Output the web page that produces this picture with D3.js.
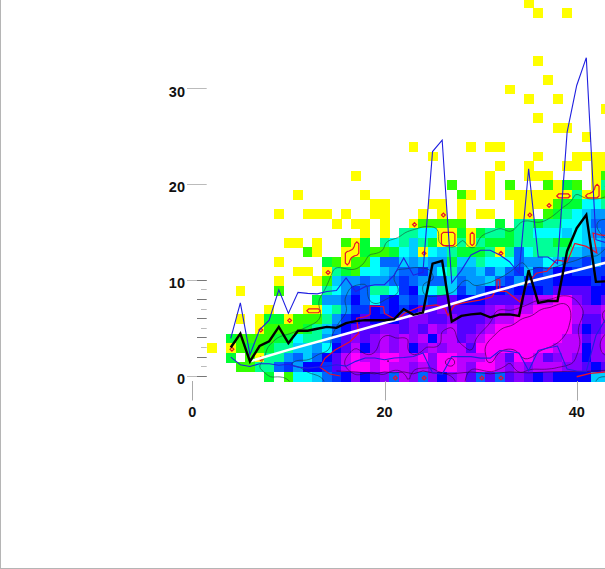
<!DOCTYPE html>
<html><head><meta charset="utf-8">
<script src="https://cdn.jsdelivr.net/npm/d3@7/dist/d3.min.js"></script>
<style>html,body{margin:0;padding:0;background:#fff}svg{display:block}text{font-family:"Liberation Sans",Arial,sans-serif;font-weight:700;font-size:14.5px;fill:#111}</style>
</head><body><svg id="c" width="605" height="569"></svg>
<script>
// Heat levels per cell: rows from y=39 down to y=0, columns x=2..43. '.' = empty
const heatTopY = 39, heatFirstX = 2;
const e30 = ".".repeat(30);
const heatRows = [
e30 + "...0......" + "..",
e30 + "....0..0.." + "..",
"", "", "", "",
e30 + "....0....." + "..",
"",
e30 + ".....0...." + "..",
e30 + ".0........" + "..",
e30 + "...0..0..." + "..",
e30 + ".........." + ".0",
e30 + "....0....." + "..",
e30 + "......00.." + "..",
e30 + ".........0" + "..",
".........." + ".........." + ".0.....0.0" + "0........." + "..",
".........." + ".........." + "...0......" + "....0...00" + "00",
".........." + ".........." + ".........." + "0..0...00." + "00",
".........." + ".....0...." + ".........0" + "...000...." + "01",
".........." + ".........." + ".....1...0" + ".1...1021." + "03",
".........0" + "......0..." + "......10.0" + ".000000030" + "01",
".........." + ".......00." + "...00.0..." + "..00001224" + "43",
".......0.." + "000.0..00." + "..0.0.0.00" + "..00.12345" + "66",
".........." + "...0.00.0." + ".011111..." + "2.33233445" + "77",
".........." + "......0.0." + "3344002023" + "3233444545" + "67",
"........00" + ".0..102.34" + "3532003032" + "2233332245" + "56",
".........." + "10..002112" + "4504532223" + "0374333356" + "67",
".......0.." + "..21011477" + "5656625534" + "4476645778" + "68",
".........0" + "0.03214456" + "7786436657" + "5785879988" + "88",
".......0.." + ".015667667" + "8767757665" + "7868889999" + "89",
"...0...1.." + "..34687334" + "8954358679" + "989998aaaa" + "99",
".........." + ".266797489" + "7878aa999a" + "aaabccddba" + "9a",
"......0..." + "0043688989" + "89aabaaaab" + "cbccddddcb" + "bc",
"...0.02201" + "113689a999" + "abbaabaaab" + "ccddddddca" + "ac",
".....01111" + "23579aaabb" + "abacbcaabc" + "ddddddddb9" + "ab",
"..21111224" + "3368ababcb" + "cbc9ccabcd" + "dddddddcca" + "bc",
"0.01212335" + "5649ac9bcb" + "c9bcbccadd" + "ddddddccc9" + "bc",
"..2.103367" + "579acdccdd" + "ccdbddcccd" + "caddcabcb9" + "bb",
"...1133786" + "998acddcdc" + "cbcbddcbdd" + "cbcbcccbba" + "9a",
"......2.14" + "45789b9ab7" + "cb7b9bca7a" + "7aba9a9999" + "55"
].map(s => s.padEnd(42, "."));
const levelColors = ["#ffff00","#33ff00","#00ff33","#00ff99","#00ffff","#00ccff","#0099ff","#0066ff","#0033ff","#0000ff","#5500ff","#8800ff","#bb00ff","#ff00ff"];

const lineX = d3.range(4, 44);
const meanY = [3.05,4.5,1.6,3.2,3.7,5.2,3.5,4.8,4.8,5.0,5.2,5.1,5.6,5.8,5.9,5.9,5.9,6.0,7.05,6.46,6.7,11.8,12.1,5.76,6.35,6.5,6.6,6.2,6.5,6.5,6.35,11.1,7.7,7.9,7.9,13.1,15.5,16.9,9.9,9.95];
const maxY  = [4.0,7.7,2.3,4.9,5.9,9.06,6.6,8.8,8.7,8.65,8.9,9.0,10.3,8.9,9.4,9.6,9.6,10.6,12.4,10.6,10.9,23.5,24.7,9.8,11.1,12.7,13.2,13.2,12.7,12.0,10.8,21.7,12.5,12.5,11.8,25.5,30.4,33.3,14.3,14.0];
const minY  = [2.05,1.25,1.07,1.35,1.35,1.2,1.3,1.0,0.9,1.0,1.1,1.25,1.1,1.6,1.95,1.95,1.77,1.95,2.0,2.1,2.47,0.4,0.25,2.1,2.1,2.1,1.94,1.94,2.74,2.64,2.47,0.62,2.74,3.0,3.2,0.8,0.6,0.55,4.3,6.0];
const trendX = [6,10,15,20,25,30,35,40,43];
const trendY = [1.6,2.8,4.2,5.6,7.0,8.5,9.9,11.1,11.9];
// red boundary
const redX = [15.4,14.3,13.3,13.8,14.85,16.4,17.3,17.1,18,18.5,18.5,19.9,20,21.3,22,23.7,25.4,26.3,26.6,27.3,28.2,29.9,31.2,31.5,31.7,31.7,32,32,32.7,33.4,34.1,34.8,35.8,36.9,37.9,39,39.8,41,42.1,41.7,42.4,43.5];
const redY = [0.07,0.28,0.98,1.92,2.79,3.65,4.53,6.1,6.26,6.5,7.4,7.3,6.6,5.9,6.6,7.3,7.5,7.1,6.4,7.5,7.7,8,8.35,8.9,8.9,10.1,10.1,8.9,8.9,8.35,7.8,9.6,10.8,11,12.2,12,13.9,13.6,12.9,15,14.8,14.7];
const redLowX = [40,41.4,43.5], redLowY = [0,0.35,0.55];
const baseX = [15,17,19,20,21,22,23,24,25,27,29,31,33,35,37,39,41,43.5];
const baseY = [0.6,0.5,0.3,0.5,0.4,0.5,0.3,0.6,0.4,0.3,0.5,0.3,0.5,0.4,0.5,0.55,0.55,0.7];
const yMajor = [0,10,20,30], yMid = [2,4,6,8], yMinor = [1,3,5,7,9], xTicks = [0,20,40];

const svg = d3.select("#c");
const x = d3.scaleLinear().domain([0,40]).range([192.3,576.7]);
const y = d3.scaleLinear().domain([0,30]).range([376.7,89.3]);
const cellW = x(1)-x(0), cellH = y(0)-y(1);

svg.append("rect").attr("x",0).attr("y",0).attr("width",1).attr("height",569).attr("fill","#b5b5b5");
svg.append("rect").attr("x",0).attr("y",568).attr("width",605).attr("height",1).attr("fill","#b5b5b5");

const cells = [];
heatRows.forEach((row,i) => { for (let j=0;j<row.length;j++) if (row[j]!=="." ) cells.push({xv:heatFirstX+j, yv:heatTopY-i, lv:parseInt(row[j],16)}); });
svg.append("g").attr("shape-rendering","crispEdges").selectAll("rect").data(cells).join("rect")
  .attr("x",d=>x(d.xv-.5)).attr("y",d=>y(d.yv+.5)).attr("width",cellW+.3).attr("height",cellH+.3)
  .attr("fill",d=>levelColors[d.lv]);

svg.append("clipPath").attr("id","plot").append("rect").attr("x",x(1.5)).attr("y",0).attr("width",500).attr("height",y(-.5));

const pad = 1, nr = heatRows.length, nc = heatRows[0].length, up = 4;
const W = nc+2*pad, H = nr+2*pad;
function sample(fn){
  const src = new Float64Array(W*H);
  for(let r=0;r<H;r++)for(let c=0;c<W;c++) src[r*W+c]=fn(r-pad,c-pad);
  const w=(W-1)*up+1,h=(H-1)*up+1,out=new Float64Array(w*h);
  for(let r=0;r<h;r++)for(let c=0;c<w;c++){
    const fr=r/up,fc=c/up,r0=Math.min(H-2,Math.floor(fr)),c0=Math.min(W-2,Math.floor(fc)),a=fr-r0,b=fc-c0;
    out[r*w+c]=src[r0*W+c0]*(1-a)*(1-b)+src[r0*W+c0+1]*(1-a)*b+src[(r0+1)*W+c0]*a*(1-b)+src[(r0+1)*W+c0+1]*a*b;
  }
  return {data:out,w,h};
}
const val=(r,c)=>{ if(r<0||c<0||r>=nr||c>=nc)return null; const ch=heatRows[r][c]; return ch==="."?null:parseInt(ch,16)+1; };
const field = sample((r,c)=>{ const v=val(r,c); if(v!==null) return v;
  if(r>=nr) { const u=val(nr-1,Math.min(nc-1,Math.max(0,c))); return u===null?0:u; }
  if(c>=nc) { const u=val(Math.max(0,Math.min(nr-1,r)),nc-1); return u===null?0:u; }
  return 0; });
if(d3.blur2) d3.blur2({data:field.data,width:field.w,height:field.h}, 1.4);
const nb=(r,c,f)=>{let n=0;for(let a=-1;a<=1;a++)for(let b=-1;b<=1;b++){const u=val(r+a,c+b); if(u!==null&&f(u))n++;}return n;};
const hole = sample((r,c)=>{ const v=val(r,c); if(v===1) return nb(r,c,u=>u>1)>=3?1:0;
  if(v!==null&&v<=8&&r>=nr-1&&c>=15&&c<38) return 1;
  return 0;});
const proj = d3.geoTransform({point(px,py){ const gc=px/up-pad, gr=py/up-pad;
  this.stream.point(x(heatFirstX+gc), y(heatTopY-gr)); }});
const path = d3.geoPath(proj);
const gen = f => d3.contours().size([f.w,f.h]).smooth(true);
const contourLevels = [{t:2.6,c:"#1c5a3a",o:.85},{t:7.3,c:"#123c4a",o:.8},{t:12.2,c:"#33033f",o:.75},{t:13.6,c:"#33033f",o:.85}];
const gC = svg.append("g").attr("fill","none").attr("clip-path","url(#plot)");
contourLevels.forEach(l=>{
  gC.append("path").attr("d",path(gen(field).contour(field.data,l.t))).attr("stroke",l.c).attr("stroke-width",.8).attr("stroke-opacity",l.o);
});
gC.append("path").attr("d",path(gen(hole).contour(hole.data,.8))).attr("stroke","#e8102a").attr("stroke-width",1.2);

const line = d3.line().x(d=>x(d[0])).y(d=>y(d[1]));
const addLine=(xs,ys,c,w,o=1)=>svg.append("path").attr("d",line(d3.zip(xs,ys))).attr("fill","none").attr("stroke",c).attr("stroke-width",w).attr("stroke-opacity",o);
addLine(baseX,baseY,"#33033f",.8,.8);
addLine(redX,redY,"#e8102a",1.2);
addLine(redLowX,redLowY,"#e8102a",1.4);
addLine(trendX,trendY,"#fff",2.6);
addLine(lineX,maxY,"#1f1fe0",1.1);
addLine(lineX,minY,"#1f1fe0",1.1);
addLine(lineX,meanY,"#000",2.4);

const gA = svg.append("g");
const tick=(v,x1,c)=>gA.append("line").attr("x1",x1).attr("x2",206.7).attr("y1",Math.round(y(v))-.5).attr("y2",Math.round(y(v))-.5).attr("stroke",c);
yMajor.forEach(v=>{ tick(v,187,"#bbb"); if(v<=10) tick(v,197,"#777");
  gA.append("text").attr("x",185).attr("y",y(v)+7.3).attr("text-anchor","end").text(v); });
yMid.forEach(v=>tick(v,197,"#777"));
yMinor.forEach(v=>tick(v,201,"#bbb"));
xTicks.forEach(v=>{
  gA.append("line").attr("x1",Math.round(x(v))+.5).attr("x2",Math.round(x(v))+.5).attr("y1",381).attr("y2",400.5).attr("stroke","#aaa");
  gA.append("text").attr("x",x(v)).attr("y",417).attr("text-anchor","middle").text(v);
});
</script></body></html>
